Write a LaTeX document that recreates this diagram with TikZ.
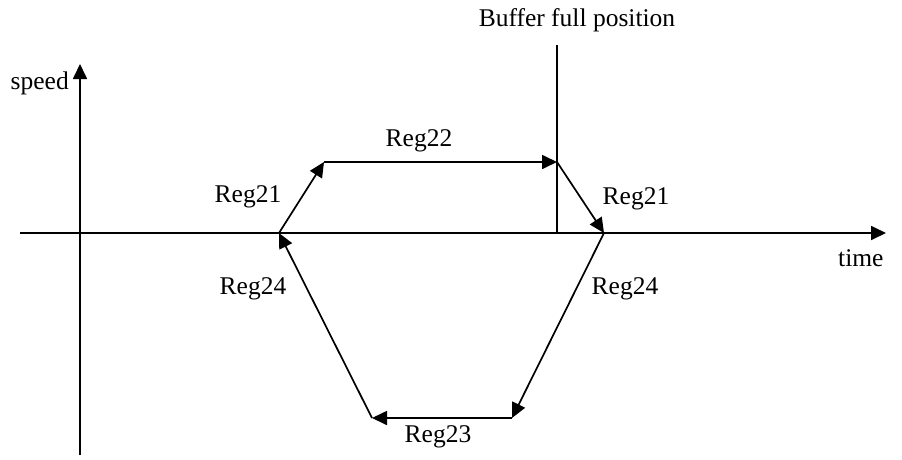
\documentclass[tikz,border=0pt]{standalone}
\usepackage{fontspec}
\setmainfont{Liberation Serif}
\usetikzlibrary{arrows.meta}
\begin{document}
\begin{tikzpicture}[x=1pt,y=-1pt,
  line/.style={line width=1.7pt},
  arr/.style={line width=1.7pt,-{Triangle[length=15pt,width=14pt]}},
  lbl/.style={font=\fontsize{25.5}{28}\selectfont,inner sep=0pt}]
\useasboundingbox (0,0) rectangle (902,459);
% axes
\coordinate (xl) at (20,233);
\coordinate (xr) at (886,233);
\coordinate (yb) at (80,455);
\coordinate (yt) at (80,64);
\draw[arr] (xl) -- (xr);
\draw[arr] (yb) -- (yt);
\node[lbl,anchor=east] (speed) at (69,83) {speed};
\node[lbl,anchor=west] (time) at (838,258) {time};
% buffer full line
\coordinate (bt) at (557,45);
\coordinate (bb) at (557,233);
\draw[line] (bt) -- (bb);
\node[lbl] (buf) at (577,20) {Buffer full position};
% profile
\coordinate (a) at (279,233);
\coordinate (b) at (324,162);
\coordinate (c) at (557,162);
\coordinate (d) at (604,233);
\coordinate (e) at (512,418);
\coordinate (f) at (372,418);
\draw[arr] (a) -- (b);
\draw[arr] (b) -- (c);
\draw[arr] (c) -- (d);
\draw[arr] (d) -- (e);
\draw[arr] (e) -- (f);
\draw[arr] (f) -- (a);
% labels
\node[lbl] (r21a) at (248,197) {Reg21};
\node[lbl] (r22) at (419,141) {Reg22};
\node[lbl] (r21b) at (636,199) {Reg21};
\node[lbl] (r24b) at (625,289) {Reg24};
\node[lbl] (r24a) at (253,289) {Reg24};
\node[lbl] (r23) at (438,437) {Reg23};
\end{tikzpicture}
\end{document}
